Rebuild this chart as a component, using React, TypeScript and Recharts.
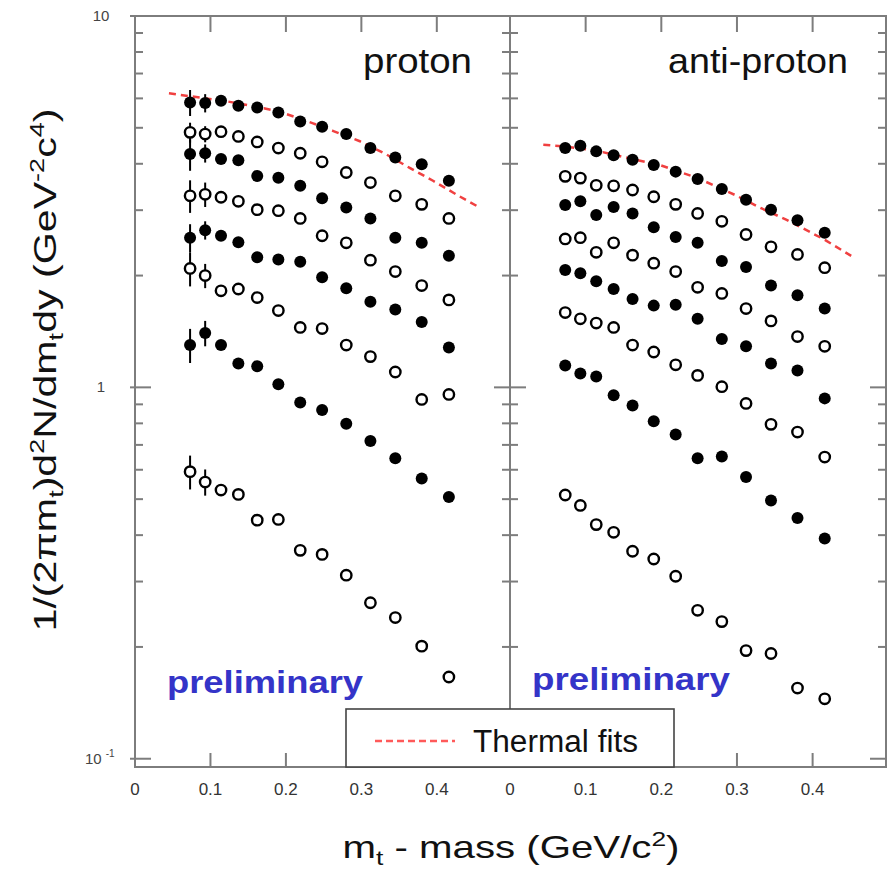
import React from "react";
import {
  ScatterChart,
  Scatter,
  XAxis,
  YAxis,
  ErrorBar,
  ReferenceArea,
  Legend,
} from "recharts";

// m_t - mass bin centres (GeV/c^2), same for every series
const MT = [0.073, 0.093, 0.114, 0.137, 0.162, 0.19, 0.219, 0.248, 0.28, 0.312, 0.345, 0.38, 0.416];

// proton spectra, top to bottom (filled / open alternating)
const P1 = [5.85, 5.83, 5.91, 5.73, 5.67, 5.5, 5.2, 5.03, 4.81, 4.41, 4.16, 3.99, 3.6];
const P2 = [4.86, 4.81, 4.88, 4.74, 4.58, 4.41, 4.27, 4.05, 3.79, 3.56, 3.28, 3.11, 2.85];
const P3 = [4.25, 4.27, 4.12, 4.09, 3.71, 3.67, 3.49, 3.23, 3.05, 2.85, 2.53, 2.45, 2.26];
const P4 = [3.28, 3.31, 3.25, 3.17, 3.01, 2.99, 2.85, 2.56, 2.45, 2.2, 2.05, 1.88, 1.72];
const P5 = [2.53, 2.65, 2.56, 2.46, 2.24, 2.21, 2.18, 1.98, 1.85, 1.7, 1.62, 1.5, 1.28];
const P6 = [2.09, 2.0, 1.82, 1.84, 1.745, 1.61, 1.45, 1.44, 1.3, 1.21, 1.1, 0.928, 0.957];
const P7 = [1.3, 1.4, 1.3, 1.16, 1.14, 1.02, 0.91, 0.869, 0.798, 0.717, 0.644, 0.568, 0.507];
const P8 = [0.593, 0.556, 0.529, 0.515, 0.439, 0.441, 0.364, 0.355, 0.312, 0.263, 0.24, 0.201, 0.166];

// error bars on the lowest bins (only the visible ones)
const P1_ERR = [0.47, 0.33];
const P2_ERR = [0.3, 0.24];
const P3_ERR = [0.42, 0.24];
const P4_ERR = [0.33, 0.25];
const P5_ERR = [0.22, 0.15, 0.08];
const P6_ERR = [0.22, 0.15];
const P7_ERR = [0.137, 0.11, 0.04];
const P8_ERR = [0.062, 0.045];

// anti-proton spectra
const A1 = [4.41, 4.47, 4.32, 4.22, 4.1, 3.97, 3.81, 3.64, 3.42, 3.2, 3.01, 2.82, 2.61];
const A2 = [3.7, 3.66, 3.5, 3.49, 3.4, 3.26, 3.11, 2.94, 2.8, 2.58, 2.39, 2.28, 2.1];
const A3 = [3.1, 3.17, 2.91, 3.06, 2.94, 2.7, 2.54, 2.45, 2.19, 2.11, 1.88, 1.77, 1.63];
const A4 = [2.51, 2.53, 2.31, 2.45, 2.27, 2.16, 2.05, 1.86, 1.79, 1.63, 1.51, 1.37, 1.29];
const A5 = [2.07, 2.03, 1.93, 1.84, 1.73, 1.66, 1.67, 1.53, 1.35, 1.29, 1.16, 1.11, 0.934];
const A6 = [1.59, 1.53, 1.49, 1.45, 1.3, 1.245, 1.15, 1.077, 1.004, 0.905, 0.795, 0.758, 0.649];
const A7 = [1.146, 1.089, 1.069, 0.952, 0.894, 0.811, 0.747, 0.644, 0.651, 0.574, 0.496, 0.445, 0.392];
const A8 = [0.513, 0.481, 0.427, 0.407, 0.362, 0.345, 0.31, 0.251, 0.234, 0.1955, 0.192, 0.155, 0.145];

// thermal fit curves
const FIT_P_X = [0.045, 0.073, 0.12, 0.162, 0.19, 0.236, 0.263, 0.298, 0.333, 0.364, 0.395, 0.43, 0.453];
const FIT_P_Y = [6.19, 6.08, 5.9, 5.69, 5.54, 5.14, 4.9, 4.6, 4.24, 3.9, 3.6, 3.27, 3.08];
const FIT_A_X = [0.044, 0.07, 0.114, 0.162, 0.198, 0.248, 0.297, 0.33, 0.365, 0.414, 0.451];
const FIT_A_Y = [4.5, 4.46, 4.34, 4.12, 3.97, 3.66, 3.3, 3.05, 2.83, 2.51, 2.26];

const X_TICKS = [0, 0.1, 0.2, 0.3, 0.4];
const Y_TICKS = [
  0.1, 0.2, 0.3, 0.4, 0.5, 0.6, 0.7, 0.8, 0.9,
  1, 2, 3, 4, 5, 6, 7, 8, 9, 10,
];

const X_MAX = 0.497;
const Y_MIN = 0.095;
const Y_MAX = 10;
const PLOT_H = 751;

const FONT = "'Liberation Sans', Arial, Helvetica, sans-serif";
const AXIS_GREY = "#7d7d7d";
const FIT_RED = "#f04040";
const PRELIM_BLUE = "#3434c8";

type Pt = { x: number; y: number; err: number };

function toPoints(ys: number[], errs: number[] = []): Pt[] {
  return MT.map((x, i) => ({ x, y: ys[i], err: errs[i] ?? 0 }));
}

function toCurve(xs: number[], ys: number[]) {
  return xs.map((x, i) => ({ x, y: ys[i] }));
}

const FilledDot = (p: any) => <circle cx={p.cx} cy={p.cy} r={6} fill="#000" />;
const OpenDot = (p: any) => (
  <circle cx={p.cx} cy={p.cy} r={5.2} fill="#fff" stroke="#000" strokeWidth={2.4} />
);

function isDecade(v: number) {
  const l = Math.log10(v);
  return Math.abs(l - Math.round(l)) < 1e-6;
}

function yTickLabel(v: number, x: number, y: number) {
  const common = { fontSize: 15, fill: "#444", fontFamily: FONT };
  if (v < 0.5) {
    return (
      <text x={x - 50} y={y + 5} textAnchor="start" {...common}>
        10
        <tspan dx={4} dy={-7} fontSize={10}>
          -1
        </tspan>
      </text>
    );
  }
  return (
    <text x={x - 34} y={y + 5} textAnchor="middle" {...common}>
      {v === 1 ? "1" : "10"}
    </text>
  );
}

function makeYTick(plotW: number, labels: boolean) {
  return (props: any) => {
    const { x, y, payload } = props;
    const v = payload.value as number;
    const major = isDecade(v);
    const len = major ? 16 : 8;
    return (
      <g>
        <line x1={x - (major && labels ? 5 : 0)} x2={x + len} y1={y} y2={y} stroke={AXIS_GREY} strokeWidth={2} />
        <line x1={x + plotW - len} x2={x + plotW} y1={y} y2={y} stroke={AXIS_GREY} strokeWidth={2} />
        {labels && major ? yTickLabel(v, x, y) : null}
      </g>
    );
  };
}

const XTick = (props: any) => {
  const { x, y, payload } = props;
  const v = payload.value as number;
  return (
    <g>
      {v > 0 && <line x1={x} x2={x} y1={y} y2={y - 14} stroke={AXIS_GREY} strokeWidth={2} />}
      {v > 0 && (
        <line x1={x} x2={x} y1={y - PLOT_H} y2={y - PLOT_H + 16} stroke={AXIS_GREY} strokeWidth={2} />
      )}
      <text x={x} y={y + 28} textAnchor="middle" fontSize={17} fill="#333" fontFamily={FONT}>
        {v === 0 ? "0" : v.toFixed(1)}
      </text>
    </g>
  );
};

const ThermalLegend = () => (
  <svg width={330} height={60} style={{ display: "block" }}>
    <rect x={1} y={1} width={328} height={58} fill="#fff" stroke="#444" strokeWidth={1.6} />
    <line x1={30} x2={110} y1={33} y2={33} stroke="#ff5a5a" strokeWidth={2.5} strokeDasharray="7 4" />
    <text x={128} y={44} fontSize={31} fill="#111" fontFamily={FONT} textLength={165} lengthAdjust="spacingAndGlyphs">
      Thermal fits
    </text>
  </svg>
);

interface PanelProps {
  series: Pt[][];
  fit: { x: number; y: number }[];
  left: number;
  width: number;
  margin: { top: number; right: number; bottom: number; left: number };
  yAxisWidth: number;
  plotW: number;
  labels: boolean;
  legendLeft?: number;
}

function Panel({ series, fit, left, width, margin, yAxisWidth, plotW, labels, legendLeft }: PanelProps) {
  return (
    <div style={{ position: "absolute", left, top: 0 }}>
      <ScatterChart width={width} height={873} margin={margin}>
        <XAxis
          dataKey="x"
          type="number"
          domain={[0, X_MAX]}
          ticks={X_TICKS}
          interval={0}
          allowDataOverflow
          axisLine={false}
          tickLine={false}
          tickSize={0}
          tickMargin={0}
          height={106}
          tick={XTick}
        />
        <YAxis
          dataKey="y"
          type="number"
          scale="log"
          domain={[Y_MIN, Y_MAX]}
          ticks={Y_TICKS}
          interval={0}
          allowDataOverflow
          axisLine={false}
          tickLine={false}
          tickSize={0}
          tickMargin={0}
          width={yAxisWidth}
          tick={makeYTick(plotW, labels)}
        />
        <ReferenceArea
          x1={0}
          x2={X_MAX}
          y1={Y_MIN}
          y2={Y_MAX}
          fill="none"
          stroke={AXIS_GREY}
          strokeWidth={2}
          ifOverflow="visible"
        />
        <Scatter
          data={fit}
          line={{ stroke: FIT_RED, strokeWidth: 2.5, strokeDasharray: "7 5" }}
          shape={() => <g />}
          isAnimationActive={false}
        />
        {series.map((pts, i) => (
          <Scatter
            key={i}
            data={pts}
            shape={i % 2 === 0 ? FilledDot : OpenDot}
            isAnimationActive={false}
          >
            <ErrorBar dataKey="err" direction="y" width={0} stroke="#000" strokeWidth={2} />
          </Scatter>
        ))}
        {legendLeft !== undefined && (
          <Legend
            layout="vertical"
            align="center"
            verticalAlign="middle"
            wrapperStyle={{ position: "absolute", left: legendLeft, top: 708, width: 330, height: 60 }}
            content={() => <ThermalLegend />}
          />
        )}
      </ScatterChart>
    </div>
  );
}

export default function App() {
  const proton = [
    toPoints(P1, P1_ERR),
    toPoints(P2, P2_ERR),
    toPoints(P3, P3_ERR),
    toPoints(P4, P4_ERR),
    toPoints(P5, P5_ERR),
    toPoints(P6, P6_ERR),
    toPoints(P7, P7_ERR),
    toPoints(P8, P8_ERR),
  ];
  const antiProton = [A1, A2, A3, A4, A5, A6, A7, A8].map((a) => toPoints(a));

  return (
    <div
      style={{
        position: "absolute",
        left: 0,
        top: 0,
        width: 894,
        height: 873,
        background: "#fff",
        fontFamily: FONT,
      }}
    >
      <Panel
        series={proton}
        fit={toCurve(FIT_P_X, FIT_P_Y)}
        left={0}
        width={512}
        margin={{ top: 16, right: 2, bottom: 0, left: 0 }}
        yAxisWidth={135}
        plotW={375}
        labels
      />
      <svg
        width={894}
        height={873}
        style={{ position: "absolute", left: 0, top: 0, pointerEvents: "none" }}
      >
        <text
          x={56}
          y={370}
          transform="rotate(-90, 56, 370)"
          textAnchor="middle"
          fontSize={32}
          fill="#111"
          fontFamily={FONT}
          textLength={523}
          lengthAdjust="spacingAndGlyphs"
        >
          1/(2πm<tspan dy={7} fontSize={21}>t</tspan>
          <tspan dy={-7}>)d</tspan>
          <tspan dy={-12} fontSize={21}>2</tspan>
          <tspan dy={12}>N/dm</tspan>
          <tspan dy={7} fontSize={21}>t</tspan>
          <tspan dy={-7}>dy (GeV</tspan>
          <tspan dy={-12} fontSize={21}>-2</tspan>
          <tspan dy={12}>c</tspan>
          <tspan dy={-12} fontSize={21}>4</tspan>
          <tspan dy={12}>)</tspan>
        </text>
        <text
          x={511}
          y={858}
          textAnchor="middle"
          fontSize={32}
          fill="#111"
          fontFamily={FONT}
          textLength={337}
          lengthAdjust="spacingAndGlyphs"
        >
          m<tspan dy={7} fontSize={21}>t</tspan>
          <tspan dy={-7}> - mass (GeV/c</tspan>
          <tspan dy={-12} fontSize={21}>2</tspan>
          <tspan dy={12}>)</tspan>
        </text>
        <text x={472} y={73} textAnchor="end" fontSize={35} fill="#111" fontFamily={FONT} textLength={109} lengthAdjust="spacingAndGlyphs">
          proton
        </text>
        <text x={848} y={73} textAnchor="end" fontSize={35} fill="#111" fontFamily={FONT} textLength={180} lengthAdjust="spacingAndGlyphs">
          anti-proton
        </text>
        <text x={167} y={693} fontSize={32} fontWeight="bold" fill={PRELIM_BLUE} fontFamily={FONT} textLength={196} lengthAdjust="spacingAndGlyphs">
          preliminary
        </text>
        <text x={532} y={690} fontSize={32} fontWeight="bold" fill={PRELIM_BLUE} fontFamily={FONT} textLength={198} lengthAdjust="spacingAndGlyphs">
          preliminary
        </text>
      </svg>
      <Panel
        series={antiProton}
        fit={toCurve(FIT_A_X, FIT_A_Y)}
        left={496}
        width={398}
        margin={{ top: 16, right: 8, bottom: 0, left: 0 }}
        yAxisWidth={14}
        plotW={376}
        labels={false}
        legendLeft={345 - 496}
      />
    </div>
  );
}
